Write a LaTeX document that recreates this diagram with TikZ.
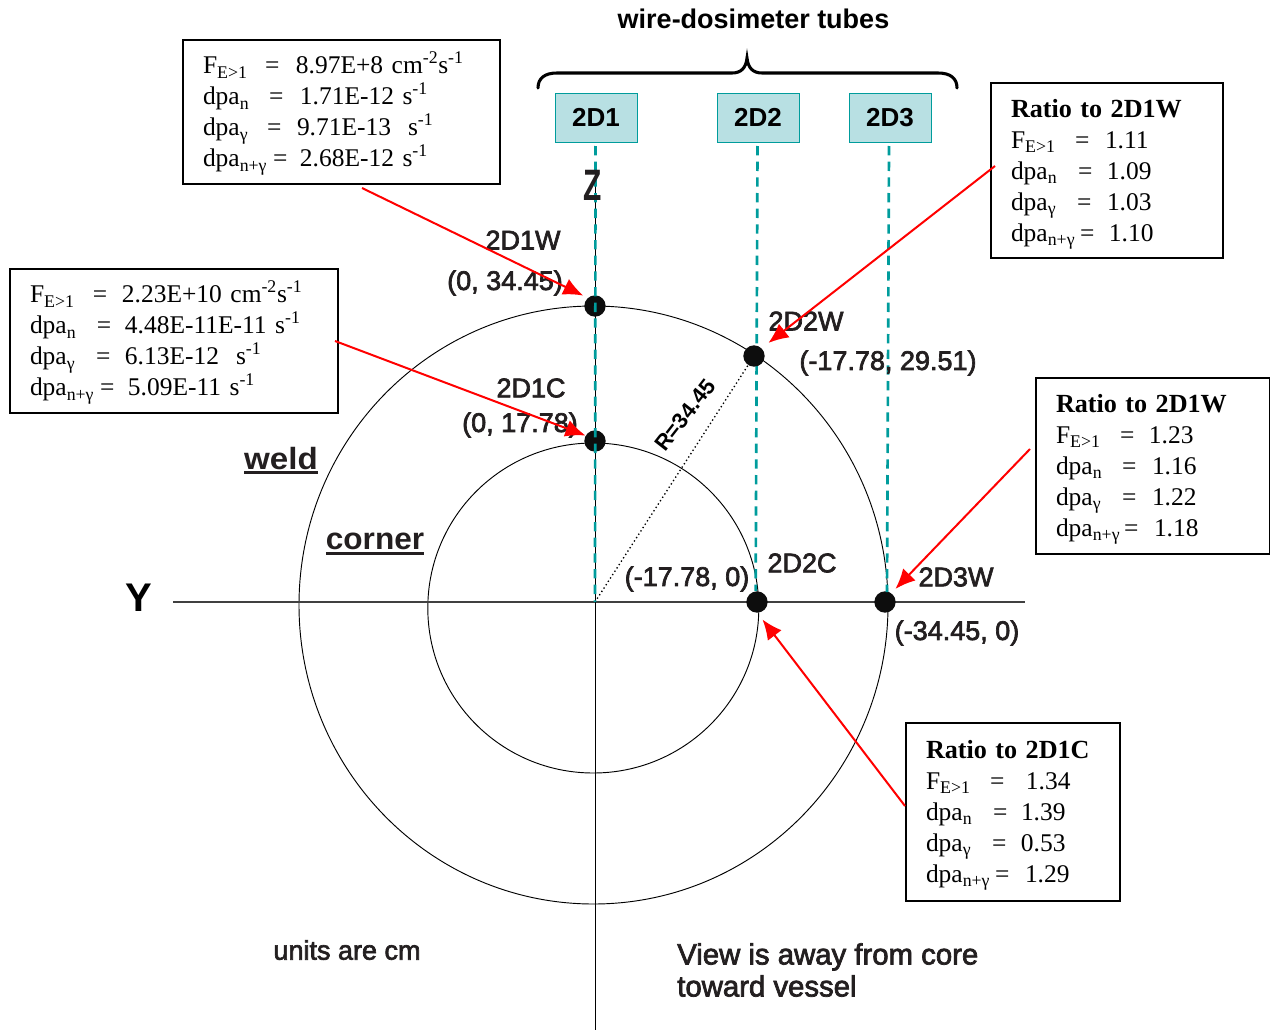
\documentclass[tikz,border=0pt]{standalone}
\usepackage{fontspec}
\setmainfont{Liberation Serif}
\setsansfont{Liberation Sans}
\newfontfamily\heavysans[FakeBold=2.5]{Liberation Sans}
\usetikzlibrary{arrows.meta}
\definecolor{tubeteal}{HTML}{009C9C}
\definecolor{tubefill}{HTML}{B8E0E3}
\definecolor{darktext}{HTML}{231F20}
\newlength{\pxu}
\setlength{\pxu}{0.75pt}
\newcommand{\dataline}[4]{\makebox[#2\pxu][l]{#1}\makebox[#3\pxu][l]{=}#4}
\newcommand{\boxhead}[1]{\rule{0pt}{19pt}{\fontsize{19.6pt}{23.25pt}\selectfont\bfseries #1}}
\newcommand{\boxtop}{\rule{0pt}{18.5pt}}
\newcommand{\thickunder}[1]{\vtop{\hbox{#1}\kern1pt\hrule height 2.2pt}}
\newcommand{\Fsym}{F\textsubscript{E>1}}
\newcommand{\dpan}{dpa\textsubscript{n}}
\newcommand{\dpag}{dpa\textsubscript{γ}}
\newcommand{\dpang}{dpa\textsubscript{n+γ}}
\newcommand{\invs}{s\textsuperscript{-1}}
\newcommand{\flux}{cm\textsuperscript{-2}s\textsuperscript{-1}}
\tikzset{
  databox/.style 2 args={draw=black, line width=1.5pt, anchor=north west, outer sep=0pt,
    inner xsep=15pt, inner ysep=0pt, text width=#1, minimum height=#2, align=left,
    font=\fontsize{19.1pt}{23.25pt}\selectfont},
  tube/.style={draw=tubeteal, fill=tubefill, line width=0.75pt, minimum width=61.5pt,
    minimum height=36.75pt, inner sep=0pt, outer sep=0pt, font=\sffamily\bfseries\fontsize{19.5pt}{22pt}\selectfont},
  spot/.style={circle, fill=black!95, draw=none, minimum size=16pt, inner sep=0pt},
  lbl/.style={text=darktext, inner sep=0pt, font=\heavysans\fontsize{20.25pt}{24pt}\selectfont},
  tubeline/.style={draw=tubeteal, line width=2pt, dash pattern=on 7pt off 4.75pt},
  redline/.style={draw=red, line width=1.5pt, -{Latex[length=15pt,width=13pt]}},
}
\begin{document}
\begin{tikzpicture}[x=0.75pt, y=-0.75pt, node distance=121.5pt]
  \useasboundingbox (0,0) rectangle (1270,1031);
  \coordinate (origin) at (595,602);
  \coordinate (yleft) at (173,602);
  \coordinate (yright) at (1025,602);
  \coordinate (ztop) at (595,172);
  \coordinate (zbottom) at (595,1030);
  % rings and axes
  \draw[line width=0.7pt] (593.5,605) ellipse [x radius=294.5, y radius=299];
  \draw[line width=0.7pt] (593.3,608) ellipse [x radius=165.5, y radius=165];
  \draw[line width=0.9pt, black!75] (yleft) -- (yright);
  \draw[line width=0.6pt] (ztop) -- (zbottom);
  % tubes
  \begin{scope}[every node/.style={tube}]
    \node (tubeA) at (596,117.5) {2D1};
    \node (tubeB) [right of=tubeA] {2D2};
    \node (tubeC) [right of=tubeB, node distance=99pt] {2D3};
  \end{scope}
  \node[font=\sffamily\bfseries\fontsize{20.25pt}{24pt}\selectfont, inner sep=0pt] (title) at (753.5,19) {wire-dosimeter tubes};
  \draw[line width=2.3pt, line cap=round] (538,88) .. controls (538,78) and (545,73) .. (557,73)
    -- (732,73) .. controls (741,73) and (746,68) .. (747,58)
    .. controls (748,68) and (753,73) .. (762,73)
    -- (938,73) .. controls (950,73) and (957,78) .. (957,88);
  % measured points
  \begin{scope}[every node/.style={spot}]
    \node (wA) at (595,306) {};
    \node (cA) at (595,441) {};
    \node (cB) at (757,602) {};
    \node (wC) at (885,602) {};
  \end{scope}
  \coordinate (wBpos) at (754,356);
  \draw[line width=1pt, dotted] (origin) -- (wBpos);
  \begin{scope}[every path/.style={tubeline}]
    \path (tubeA.south) ++(-0.5,4) -- (origin);
    \path (tubeB.south) ++(-0.5,4) -- ([xshift=-1pt]cB.north);
    \path (tubeC.south) ++(-1,4) -- (887,592);
  \end{scope}
  \node[spot] (wB) at (wBpos) {};
  % labels
  \begin{scope}[every node/.style={lbl}]
    \node (lwA) at (523,240) {2D1W};
    \node (pwA) at (505,283) {(0, 34.45)};
    \node (lcA) at (531,388) {2D1C};
    \node (pcA) at (520,425) {(0, 17.78)};
    \node (lwB) at (806,321) {2D2W};
    \node (pwB) at (888,363) {(-17.78, 29.51)};
    \node (lcB) at (802,563) {2D2C};
    \node (pcB) at (687,579) {(-17.78, 0)};
    \node (lwC) at (956,577) {2D3W};
    \node (pwC) at (957,633) {(-34.45, 0)};
    \node (units) at (347,950) {units are cm};
    \node[align=left, anchor=west, font=\heavysans\fontsize{22pt}{24pt}\selectfont] (view) at (677,970) {View is away from core\\toward vessel};
  \end{scope}
  \node[font=\sffamily\bfseries\fontsize{23pt}{26pt}\selectfont, inner sep=0pt, xscale=1.08, text=darktext] (weld) at (281,461) {\thickunder{weld}};
  \node[font=\sffamily\bfseries\fontsize{23pt}{26pt}\selectfont, inner sep=0pt, xscale=1.03, text=darktext] (corner) at (375,544) {\thickunder{corner}};
  \node[font=\sffamily\bfseries\fontsize{30pt}{32pt}\selectfont, inner sep=0pt] (yaxis) at (139,598) {Y};
  \node[font=\sffamily\bfseries\fontsize{33pt}{35pt}\selectfont, inner sep=0pt, xscale=0.68, text=darktext] (zaxis) at (593,185) {Z};
  \node[font=\sffamily\bfseries\fontsize{16.5pt}{18pt}\selectfont, inner sep=0pt, rotate=52] (radius) at (685,415) {R=34.45};
  % data boxes
  \node[databox={207.75pt}{108pt}] (boxA) at (183,40) {%
    \boxtop\dataline{\Fsym}{62}{31}{8.97E+8 \flux}\\
    \dataline{\dpan}{66}{31}{1.71E-12 \invs}\\
    \dataline{\dpag}{64}{30}{9.71E-13\ \ \invs}\\
    \dataline{\dpang}{70}{27}{2.68E-12 \invs}};
  \node[databox={216pt}{108pt}] (boxB) at (10,269) {%
    \boxtop\dataline{\Fsym}{63}{29}{2.23E+10 \flux}\\
    \dataline{\dpan}{67}{28}{4.48E-11E-11 \invs}\\
    \dataline{\dpag}{66}{29}{6.13E-12\ \ \invs}\\
    \dataline{\dpang}{70}{28}{5.09E-11 \invs}};
  \node[databox={144pt}{131.25pt}] (boxC) at (991,83) {%
    \boxhead{Ratio to 2D1W}\\
    \dataline{\Fsym}{64}{30}{1.11}\\
    \dataline{\dpan}{67}{29}{1.09}\\
    \dataline{\dpag}{66}{30}{1.03}\\
    \dataline{\dpang}{69}{29}{1.10}};
  \node[databox={145.5pt}{132pt}] (boxD) at (1036,378) {%
    \boxhead{Ratio to 2D1W}\\
    \dataline{\Fsym}{64}{29}{1.23}\\
    \dataline{\dpan}{66}{30}{1.16}\\
    \dataline{\dpag}{66}{30}{1.22}\\
    \dataline{\dpang}{68}{30}{1.18}};
  \node[databox={130.5pt}{133.5pt}] (boxE) at (906,723) {%
    \boxhead{Ratio to 2D1C}\\
    \dataline{\Fsym}{64}{36}{1.34}\\
    \dataline{\dpan}{67}{28}{1.39}\\
    \dataline{\dpag}{66}{29}{0.53}\\
    \dataline{\dpang}{69}{30}{1.29}};
  % pointers
  \coordinate (tailA) at (362,188);
  \coordinate (tailB) at (335,341);
  \coordinate (tailC) at (995,166);
  \coordinate (tailD) at (1030,449);
  \coordinate (tailE) at (905,806);
  \begin{scope}[every path/.style={redline}]
    \path (tailA) -- ([xshift=-3pt,yshift=2pt]wA.north west);
    \path (tailB) -- (cA.150);
    \path (tailC) -- ([xshift=5pt,yshift=4pt]wB.north east);
    \path (tailD) -- ([xshift=2pt,yshift=4pt]wC.north east);
    \path (tailE) -- ([yshift=-6pt]cB.-60);
  \end{scope}
\end{tikzpicture}
\end{document}
